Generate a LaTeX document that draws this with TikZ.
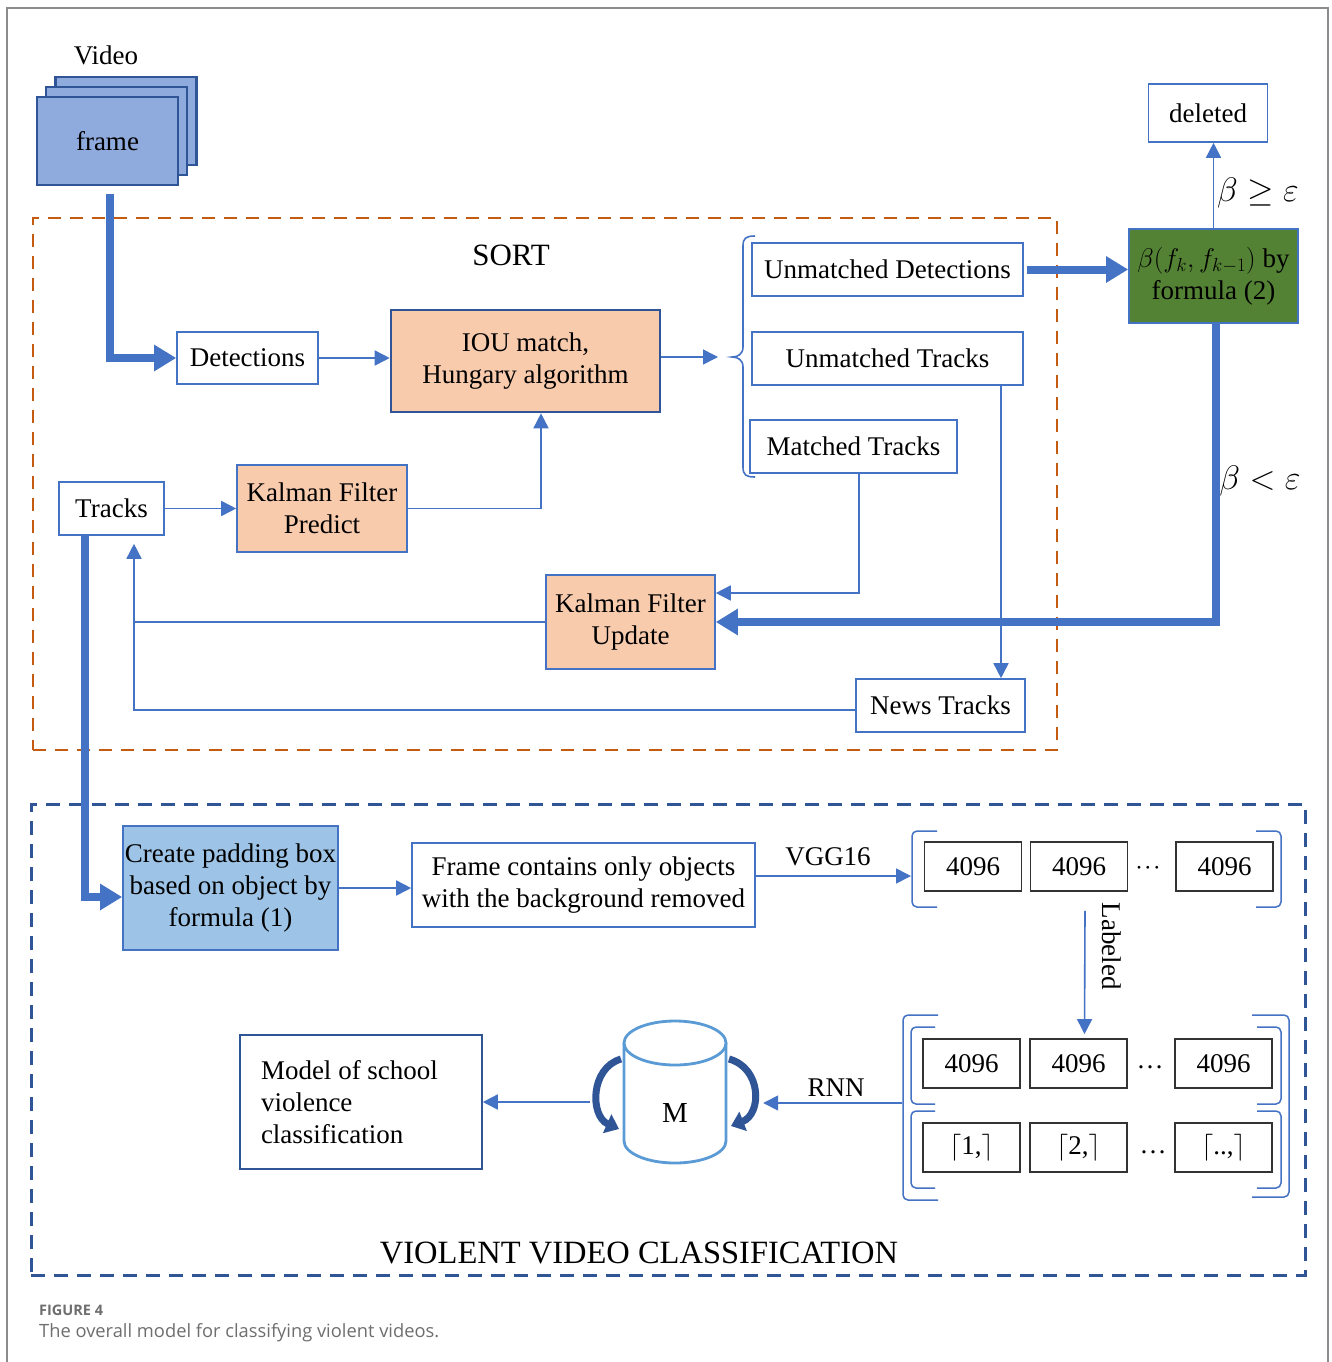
\documentclass[tikz,border=0pt]{standalone}
\usepackage{fix-cm}
\usepackage{fontspec}
\setmainfont{Liberation Serif}
\newfontfamily\capfont{Open Sans}
\usetikzlibrary{arrows.meta,calc}
\definecolor{mblue}{HTML}{4472C4}
\definecolor{dblue}{HTML}{2F5597}
\definecolor{peach}{HTML}{F8CBAD}
\definecolor{fblue}{HTML}{8FAADC}
\definecolor{lblue}{HTML}{9DC3E6}
\definecolor{mgreen}{HTML}{548235}
\definecolor{sortorange}{HTML}{C55A11}
\definecolor{cylblue}{HTML}{5B9BD5}
\definecolor{capgray}{HTML}{6E6E6E}
\tikzset{
  base/.style={font=\fontsize{27}{32}\selectfont, align=center, inner sep=0pt},
  wbox/.style={base, draw=mblue, line width=1.6pt, fill=white},
  framebox/.style={base, draw=dblue, line width=2.6pt, fill=fblue, minimum width=141pt, minimum height=88pt},
  peachbox/.style={base, draw=mblue, line width=1.6pt, fill=peach},
  mbox/.style={base, draw=black!80, line width=1.8pt, fill=white, minimum width=97pt, minimum height=49pt},
  thinarrow/.style={draw=mblue, line width=1.6pt, -{Triangle[length=15pt,width=15pt]}},
  thinline/.style={draw=mblue, line width=1.6pt},
  thickarrow/.style={draw=mblue, line width=8pt, -{Triangle[length=22pt,width=25pt]}},
  brk/.style={draw=mblue, line width=1.5pt, rounded corners=5pt},
  curvearrow/.style={draw=dblue, line width=7pt, -{Triangle[length=13pt,width=20pt]}},
  lbl/.style={base},
  mathlbl/.style={inner sep=0pt, font=\fontsize{34}{38}\selectfont},
}
\begin{document}
\begin{tikzpicture}[x=1pt,y=-1pt]
\useasboundingbox (0,0) rectangle (1332,1362);
\fill[white] (0,0) rectangle (1332,1362);
\draw[black!45, line width=1.5pt] (7,1362) -- (7,8) -- (1328,8) -- (1328,1362);

% ---------- video frames ----------
\node[lbl] (video) at (106,55) {Video};
\node[framebox] (f3) at (126,121) {};
\node[framebox] (f2) at (116.5,131) {};
\node[framebox] (f1) at (107.5,141) {frame};

% ---------- SORT region ----------
\node[draw=sortorange, dash pattern=on 13pt off 9pt, line width=2.8pt, minimum width=1024pt, minimum height=532pt, inner sep=0pt] (sortbox) at (545,484) {};
\node[base, font=\fontsize{31}{36}\selectfont] (sortlbl) at (511,255) {SORT};

\node[wbox, minimum width=141pt, minimum height=52pt] (det) at (247.5,358) {Detections};
\node[base, draw=dblue, line width=2.6pt, fill=peach, minimum width=269pt, minimum height=102pt] (iou) at (525.5,361) {IOU match,\\Hungary algorithm};
\node[wbox, minimum width=271pt, minimum height=53pt] (ud) at (887.5,269.5) {Unmatched Detections};
\node[wbox, minimum width=271pt, minimum height=53pt] (ut) at (887.5,358.5) {Unmatched Tracks};
\node[wbox, minimum width=207pt, minimum height=53pt] (mt) at (853.5,446.5) {Matched Tracks};
\node[base, draw=mblue, line width=1.6pt, fill=mgreen, minimum width=169pt, minimum height=94pt] (green) at (1213.5,276) {$\beta(f_k,f_{k-1})$ by\\formula (2)};
\node[wbox, minimum width=119pt, minimum height=58pt] (del) at (1208,113) {deleted};
\node[wbox, minimum width=105pt, minimum height=53pt] (tracks) at (111.5,508.5) {Tracks};
\node[peachbox, minimum width=170pt, minimum height=87pt] (kfp) at (322,508.5) {Kalman Filter\\Predict};
\node[peachbox, minimum width=169pt, minimum height=94pt] (kfu) at (630.5,622) {Kalman Filter\\Update};
\node[wbox, minimum width=169pt, minimum height=53pt] (news) at (940.5,705.5) {News Tracks};

\coordinate (bracetip) at (732,357);
\draw[thinline] (755,236) .. controls (746,236) and (743,238) .. (743,246) -- (743,347) .. controls (743,354) and (738,357) .. (bracetip) .. controls (738,357) and (743,360) .. (743,367) -- (743,467) .. controls (743,475) and (746,477) .. (755,477);

\node[mathlbl] (ge) at (1258,193) {$\beta \geq \varepsilon$};
\node[mathlbl] (lt) at (1260,481) {$\beta < \varepsilon$};

% connectors in SORT
\draw[thickarrow] ([xshift=2.5pt,yshift=-8pt]f1.south) |- (det.west);
\draw[thinarrow] (det.east) -- (iou.west |- det.east);
\draw[thinarrow] (iou.east |- bracetip) -- ([xshift=-14pt]bracetip);
\draw[thickarrow] ([xshift=3pt]ud.east) -- (ud.east -| green.west);
\draw[thinarrow] (green.north) -- (green.north |- del.south);
\draw[thickarrow] ([xshift=2.5pt]green.south) |- (kfu.east);
\draw[thinarrow] (tracks.east) -- (kfp.west);
\draw[thinarrow] (kfp.east) -| ([xshift=15.5pt]iou.south);
\draw[thinarrow] ([xshift=5.5pt]mt.south) |- ([yshift=29pt]kfu.east);
\draw[thinarrow] ([xshift=113.5pt]ut.south) -- ([xshift=113.5pt]ut.south |- news.north);
\coordinate (joinpt) at (134,622);
\draw[thinarrow] (kfu.west) -| ([xshift=22.5pt,yshift=-8pt]tracks.south);
\draw[thinline] ([yshift=-4.5pt]news.west) -| (joinpt);

% ---------- violent video classification ----------
\node[draw=dblue, dash pattern=on 14pt off 9pt, line width=3pt, minimum width=1274pt, minimum height=471pt, inner sep=0pt] (vbox) at (668,1039.5) {};
\node[base, font=\fontsize{32.5}{36}\selectfont] (vlbl) at (639,1253) {VIOLENT VIDEO CLASSIFICATION};

\node[base, draw=mblue, line width=1.6pt, fill=lblue, minimum width=215pt, minimum height=124pt] (pad) at (230.5,888) {Create padding box\\based on object by\\formula (1)};
\node[wbox, minimum width=343pt, minimum height=84pt] (fr) at (583.5,885) {Frame contains only objects\\with the background removed};

\draw[thickarrow] ([xshift=-26.5pt]tracks.south) |- ([yshift=-9pt]pad.west);
\draw[thinarrow] (pad.east) -- (pad.east -| fr.west);

% top feature vector
\node[mbox] (t1) at (973,866.5) {4096};
\node[mbox] (t2) at (1079,866.5) {4096};
\node[base] (tdots) at (1148,868) {$\cdot\!\cdot\!\cdot$};
\node[mbox] (t3) at (1224.5,866.5) {4096};
\draw[brk] (937,831) -- (912,831) -- (912,907) -- (937,907);
\draw[brk] (1256,831) -- (1281,831) -- (1281,907) -- (1256,907);
\coordinate (m1l) at (911,876);
\draw[thinarrow] ([yshift=9pt]fr.east) -- (m1l);
\node[lbl] (vgg) at (828,857) {VGG16};

% bottom labelled matrix
\node[mbox] (b1) at (971.5,1063.5) {4096};
\node[mbox] (b2) at (1078.5,1063.5) {4096};
\node[base] (bdots1) at (1150,1067) {\dots};
\node[mbox] (b3) at (1223.5,1063.5) {4096};
\node[mbox] (c1) at (971.5,1147.5) {$\lceil$1,$\rceil$};
\node[mbox] (c2) at (1078.5,1147.5) {$\lceil$2,$\rceil$};
\node[base] (bdots2) at (1153,1152) {\dots};
\node[mbox] (c3) at (1223.5,1147.5) {$\lceil$..,$\rceil$};
\draw[brk] (938,1015) -- (903,1015) -- (903,1200) -- (938,1200);
\draw[brk] (1252,1015) -- (1289,1015) -- (1289,1197) -- (1252,1197);
\draw[brk] (935,1027) -- (911,1027) -- (911,1104) -- (935,1104);
\draw[brk] (935,1111) -- (911,1111) -- (911,1188) -- (935,1188);
\draw[brk] (1257,1027) -- (1281,1027) -- (1281,1104) -- (1257,1104);
\draw[brk] (1257,1111) -- (1281,1111) -- (1281,1188) -- (1257,1188);

\draw[thinarrow] ([xshift=6pt,yshift=-19pt]t2.south) -- ([xshift=6pt,yshift=4pt]b2.north);
\node[base, rotate=-90] (labeled) at (1112,946) {Labeled};

% cylinder M
\node[minimum width=102pt, minimum height=143pt, inner sep=0pt] (cyl) at (675,1091.5) {};
\fill[white] (624,1043) -- (624,1141) arc[start angle=180, end angle=360, x radius=51pt, y radius=22pt] -- (726,1043) -- cycle;
\draw[cylblue, line width=2.8pt] (624,1043) -- (624,1141) arc[start angle=180, end angle=360, x radius=51pt, y radius=22pt] -- (726,1043);
\draw[cylblue, line width=2.8pt, fill=white] (675,1043) ellipse[x radius=51pt, y radius=22pt];
\node[base, font=\fontsize{29}{34}\selectfont] (mlbl) at (675,1113) {M};
\draw[curvearrow] (621,1059) .. controls (590,1068) and (590,1116) .. (619,1129);
\draw[curvearrow] (729,1059) .. controls (762,1068) and (762,1114) .. (731,1126);

\node[base, draw=dblue, line width=1.6pt, fill=white, minimum width=242pt, minimum height=134pt, text width=200pt, inner xsep=21pt, align=flush left] (model) at (361,1102) {Model of school\\violence\\classification};

\coordinate (m2l) at (902,1103);
\draw[thinarrow] (m2l) -- ([xshift=37pt]cyl.east |- m2l);
\node[lbl] (rnn) at (836,1088) {RNN};
\draw[thinarrow] ([xshift=-34pt]cyl.west |- model.east) -- (model.east);

% ---------- caption ----------
\node[anchor=west, inner sep=0pt, text=capgray, font=\capfont\bfseries\fontsize{14.5}{16}\selectfont] (fig) at (39,1310) {FIGURE 4};
\node[anchor=west, inner sep=0pt, text=capgray, font=\capfont\fontsize{18.3}{20}\selectfont] (cap) at (39,1333) {The overall model for classifying violent videos.};
\end{tikzpicture}
\end{document}
